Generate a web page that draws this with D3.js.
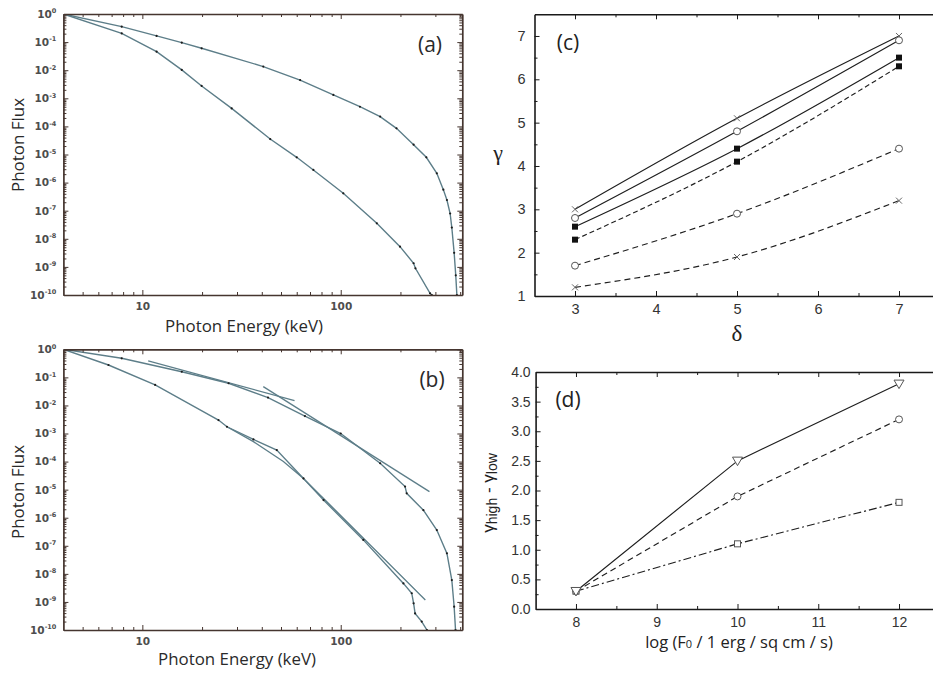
<!DOCTYPE html>
<html>
<head>
<meta charset="utf-8">
<script src="https://cdn.jsdelivr.net/npm/d3@7"></script>
<style>
  html,body{margin:0;padding:0;background:#fff;}
  svg{display:block;}
</style>
</head>
<body>
<svg id="chart" width="933" height="673"></svg>
<script>
// ---------------- DATA ----------------
// Panel (a): photon spectra, energy (keV) and log10(photon flux)
const aUpperEnergy = [4, 7.87, 11.8, 15.8, 19.9, 40.7, 62.4, 91.8, 125, 158, 191, 233, 270, 305, 329, 343, 356, 363, 373, 380, 385];
const aUpperLogFlux = [0, -0.45, -0.78, -1.02, -1.22, -1.87, -2.35, -2.88, -3.30, -3.65, -4.07, -4.65, -5.10, -5.67, -6.25, -6.62, -7.10, -7.60, -8.50, -9.30, -10];
const aLowerEnergy = [4, 7.87, 11.8, 15.8, 19.9, 28.2, 44.1, 60, 72.8, 103, 152, 199, 233, 238, 282, 288];
const aLowerLogFlux = [0, -0.69, -1.34, -1.99, -2.56, -3.36, -4.45, -5.10, -5.55, -6.38, -7.45, -8.28, -8.87, -9.05, -9.94, -10];

// Panel (b): spectra plus power-law fits
const bUpperEnergy = [4, 7.87, 15.8, 27.2, 43, 66, 100, 158, 211, 215, 261, 305, 343, 363, 373, 379];
const bUpperLogFlux = [0, -0.32, -0.80, -1.21, -1.72, -2.38, -3.0, -4.06, -4.89, -5.13, -5.73, -6.44, -7.27, -8.22, -9.17, -10];
const bLowerEnergy = [4, 6.75, 11.6, 24.2, 26.7, 36.3, 47.6, 64.9, 81.9, 130, 207, 228, 233, 237, 256, 272];
const bLowerLogFlux = [0, -0.56, -1.27, -2.52, -2.76, -3.21, -3.59, -4.60, -5.37, -6.79, -8.34, -8.69, -9.05, -9.41, -9.70, -10];
const bFitUpperLowEnergy = [10.7, 58.5];
const bFitUpperLowLogFlux = [-0.41, -1.83];
const bFitUpperHighEnergy = [40.7, 280];
const bFitUpperHighLogFlux = [-1.33, -5.07];
const bFitLowerHighEnergy = [26.7, 36.3, 51.4, 64.9, 267];
const bFitLowerHighLogFlux = [-2.76, -3.29, -4.0, -4.60, -8.93];

// Panel (c): gamma vs delta
const cDelta = [3, 5, 7];
const cSolidCross = [3.0, 5.1, 7.0];
const cSolidCircle = [2.8, 4.8, 6.9];
const cSolidSquare = [2.6, 4.4, 6.5];
const cDashSquare = [2.3, 4.1, 6.3];
const cDashCircle = [1.7, 2.9, 4.4];
const cDashCross = [1.2, 1.9, 3.2];
const cXTicks = [3, 4, 5, 6, 7];
const cYTicks = [1, 2, 3, 4, 5, 6, 7];

// Panel (d): gamma_high - gamma_low vs log F0
const dLogF0 = [8, 10, 12];
const dSolidTriangle = [0.3, 2.5, 3.8];
const dDashCircle = [0.3, 1.9, 3.2];
const dDashDotSquare = [0.3, 1.1, 1.8];
const dXTicks = [8, 9, 10, 11, 12];
const dYTicks = [0, 0.5, 1.0, 1.5, 2.0, 2.5, 3.0, 3.5, 4.0];

// log-axis tick values
const logXMajor = [10, 100];
const logXMinor = [5, 6, 7, 8, 9, 20, 30, 40, 50, 60, 70, 80, 90, 200, 300, 400];
const logYExponents = [0, -1, -2, -3, -4, -5, -6, -7, -8, -9, -10];

// ---------------- DRAWING ----------------
const svg = d3.select("#chart");
const frameColor = "#45352f";
const curveColor = "#5d7e89";

const zip = (xs, ys) => xs.map((v, i) => [v, ys[i]]);

function styleAxis(sel, color, width) {
  sel.select(".domain").attr("stroke", color).attr("stroke-width", width);
  sel.selectAll(".tick line").attr("stroke", color).attr("stroke-width", 1);
}

function logPanel(id, top, bottom, series, fits, tag, tagPos, xlabelPos, ylabelY) {
  const x = d3.scaleLog().domain([4, 410]).range([63.4, 462.3]);
  const y = d3.scaleLog().domain([1e-10, 1]).range([bottom, top]);
  const [x0, x1] = x.range();
  const g = svg.append("g");
  const yMajor = logYExponents.map(e => Math.pow(10, e));
  const yMinor = [];
  logYExponents.slice(1).forEach(e => { for (let k = 2; k <= 9; k++) yMinor.push(k * Math.pow(10, e)); });

  svg.append("clipPath").attr("id", "clip-" + id)
    .append("rect").attr("x", x0).attr("y", top).attr("width", x1 - x0).attr("height", bottom - top);

  const line = d3.line().x(d => x(d[0])).y(d => y(Math.pow(10, d[1])));
  const cg = g.append("g").attr("clip-path", `url(#clip-${id})`);
  fits.forEach(f => {
    cg.append("path").datum(f).attr("d", line).attr("fill", "none")
      .attr("stroke", curveColor).attr("stroke-width", 1.3);
  });
  series.forEach(s => {
    cg.append("path").datum(s).attr("d", line).attr("fill", "none")
      .attr("stroke", curveColor).attr("stroke-width", 1.4);
    cg.selectAll(null).data(s.slice(1)).enter().append("circle")
      .attr("cx", d => x(d[0])).attr("cy", d => y(Math.pow(10, d[1])))
      .attr("r", 1.1).attr("fill", "#1c1c1c");
  });

  const bottomAx = g.append("g").attr("transform", `translate(0,${bottom})`)
    .call(d3.axisBottom(x).tickValues(logXMajor).tickSize(-5).tickSizeOuter(0).tickPadding(8).tickFormat(d3.format("d")));
  const bottomMin = g.append("g").attr("transform", `translate(0,${bottom})`)
    .call(d3.axisBottom(x).tickValues(logXMinor).tickSize(-3).tickSizeOuter(0).tickFormat(() => ""));
  const topAx = g.append("g").attr("transform", `translate(0,${top})`)
    .call(d3.axisTop(x).tickValues(logXMajor).tickSize(-5).tickSizeOuter(0).tickFormat(() => ""));
  const topMin = g.append("g").attr("transform", `translate(0,${top})`)
    .call(d3.axisTop(x).tickValues(logXMinor).tickSize(-3).tickSizeOuter(0).tickFormat(() => ""));
  const leftAx = g.append("g").attr("transform", `translate(${x0},0)`)
    .call(d3.axisLeft(y).tickValues(yMajor).tickSize(-5).tickSizeOuter(0).tickPadding(7).tickFormat(() => ""));
  const leftMin = g.append("g").attr("transform", `translate(${x0},0)`)
    .call(d3.axisLeft(y).tickValues(yMinor).tickSize(-3).tickSizeOuter(0).tickFormat(() => ""));
  const rightAx = g.append("g").attr("transform", `translate(${x1},0)`)
    .call(d3.axisRight(y).tickValues(yMajor).tickSize(-5).tickSizeOuter(0).tickFormat(() => ""));
  const rightMin = g.append("g").attr("transform", `translate(${x1},0)`)
    .call(d3.axisRight(y).tickValues(yMinor).tickSize(-3).tickSizeOuter(0).tickFormat(() => ""));
  [bottomAx, topAx, leftAx, rightAx].forEach(a => styleAxis(a, frameColor, 1.7));
  [bottomMin, topMin, leftMin, rightMin].forEach(a => { a.select(".domain").remove(); styleAxis(a, frameColor, 1); });

  bottomAx.selectAll(".tick text")
    .style("font-family", "DejaVu Sans").style("font-weight", "bold").style("font-size", "10.5px").attr("fill", "#4d4d4d");
  leftAx.selectAll(".tick text").each(function(d) {
    const t = d3.select(this).text(null)
      .style("font-family", "DejaVu Sans").style("font-weight", "bold").style("font-size", "10.5px").attr("fill", "#4d4d4d");
    const e = Math.round(Math.log10(d));
    t.append("tspan").text("10");
    t.append("tspan").style("font-size", "6.5px").attr("dy", -4.5).text(e === 0 ? "0" : "-" + Math.abs(e));
  });

  g.append("text").attr("x", tagPos[0]).attr("y", tagPos[1]).attr("text-anchor", "middle")
    .style("font-family", "Open Sans").style("font-size", "21px").attr("fill", "#2a2a2a").text(tag);
  g.append("text").attr("x", xlabelPos[0]).attr("y", xlabelPos[1]).attr("text-anchor", "middle")
    .style("font-family", "Open Sans").style("font-size", "15.5px").attr("fill", "#2a2a2a")
    .attr("textLength", 158).attr("lengthAdjust", "spacingAndGlyphs").text("Photon Energy (keV)");
  g.append("text").attr("transform", `translate(24,${ylabelY}) rotate(-90)`).attr("text-anchor", "middle")
    .style("font-family", "Open Sans").style("font-size", "15.5px").attr("fill", "#2a2a2a")
    .attr("textLength", 94).attr("lengthAdjust", "spacingAndGlyphs").text("Photon Flux");
}

logPanel("a", 14, 295,
  [zip(aUpperEnergy, aUpperLogFlux), zip(aLowerEnergy, aLowerLogFlux)],
  [], "(a)", [430, 52], [244, 332], 145);

logPanel("b", 349.3, 630,
  [zip(bUpperEnergy, bUpperLogFlux), zip(bLowerEnergy, bLowerLogFlux)],
  [zip(bFitUpperLowEnergy, bFitUpperLowLogFlux), zip(bFitUpperHighEnergy, bFitUpperHighLogFlux), zip(bFitLowerHighEnergy, bFitLowerHighLogFlux)],
  "(b)", [432, 387], [237, 665], 492);

function marker(sel, type, size) {
  if (type === "cross") {
    const s = size / 2;
    sel.append("path").attr("d", `M${-s},${-s}L${s},${s}M${-s},${s}L${s},${-s}`)
      .attr("stroke", "#666").attr("stroke-width", 1).attr("fill", "none");
  } else if (type === "circle") {
    sel.append("circle").attr("r", size / 2).attr("fill", "#fff").attr("stroke", "#555").attr("stroke-width", 1);
  } else if (type === "square") {
    sel.append("rect").attr("x", -size / 2).attr("y", -size / 2).attr("width", size).attr("height", size).attr("fill", "#111");
  } else if (type === "osquare") {
    sel.append("rect").attr("x", -size / 2).attr("y", -size / 2).attr("width", size).attr("height", size)
      .attr("fill", "#fff").attr("stroke", "#555").attr("stroke-width", 1);
  } else if (type === "tri") {
    const s = size / 2;
    sel.append("path").attr("d", `M${-s},${-s * 0.75}L${s},${-s * 0.75}L0,${s * 0.95}Z`)
      .attr("fill", "#fff").attr("stroke", "#555").attr("stroke-width", 1);
  }
}

function linPanel(cfg) {
  const { x, y, top, bottom, xTicks, xMinor, yTicks, yMinor, yFormat, series, curve } = cfg;
  const g = svg.append("g");
  const [x0] = x.range();
  const line = d3.line().x(d => x(d[0])).y(d => y(d[1])).curve(curve);
  series.forEach(s => {
    g.append("path").datum(s.pts).attr("d", line).attr("fill", "none")
      .attr("stroke", "#1e1e1e").attr("stroke-width", 1.15)
      .attr("stroke-dasharray", s.dash || null);
  });
  series.forEach(s => {
    s.pts.forEach(p => {
      const m = g.append("g").attr("transform", `translate(${x(p[0])},${y(p[1])})`);
      marker(m, s.marker, s.size);
    });
  });
  const bAx = g.append("g").attr("transform", `translate(0,${bottom})`)
    .call(d3.axisBottom(x).tickValues(xTicks).tickSize(-5).tickSizeOuter(0).tickPadding(cfg.xPad).tickFormat(d3.format("d")));
  const bMin = g.append("g").attr("transform", `translate(0,${bottom})`)
    .call(d3.axisBottom(x).tickValues(xMinor).tickSize(-3).tickSizeOuter(0).tickFormat(() => ""));
  const tAx = g.append("g").attr("transform", `translate(0,${top})`)
    .call(d3.axisTop(x).tickValues(xTicks).tickSize(-5).tickSizeOuter(0).tickFormat(() => ""));
  const tMin = g.append("g").attr("transform", `translate(0,${top})`)
    .call(d3.axisTop(x).tickValues(xMinor).tickSize(-3).tickSizeOuter(0).tickFormat(() => ""));
  const lAx = g.append("g").attr("transform", `translate(${x0},0)`)
    .call(d3.axisLeft(y).tickValues(yTicks).tickSize(-5).tickSizeOuter(0).tickPadding(cfg.yPad).tickFormat(yFormat));
  const lMin = g.append("g").attr("transform", `translate(${x0},0)`)
    .call(d3.axisLeft(y).tickValues(yMinor).tickSize(-3).tickSizeOuter(0).tickFormat(() => ""));
  [bAx, tAx, lAx].forEach(a => styleAxis(a, "#1a1a1a", 1.6));
  [bMin, tMin, lMin].forEach(a => { a.select(".domain").remove(); styleAxis(a, "#1a1a1a", 1); });
  [bAx, lAx].forEach(a => a.selectAll(".tick text")
    .style("font-family", "Liberation Sans").style("font-size", cfg.tickFont + "px").attr("fill", "#333"));
  return g;
}

// Panel (c)
const cx = d3.scaleLinear().domain([2.5, 7.5]).range([534.5, 939.5]);
const cy = d3.scaleLinear().domain([1, 7.5]).range([296, 14.3]);
const gc = linPanel({
  x: cx, y: cy, top: 14.3, bottom: 296,
  xTicks: cXTicks, xMinor: [3.5, 4.5, 5.5, 6.5],
  yTicks: cYTicks, yMinor: [1.5, 2.5, 3.5, 4.5, 5.5, 6.5],
  yFormat: d3.format("d"), xPad: 8, yPad: 9, tickFont: 14.5,
  curve: d3.curveNatural,
  series: [
    { pts: zip(cDelta, cSolidCross), marker: "cross", size: 6 },
    { pts: zip(cDelta, cSolidCircle), marker: "circle", size: 7 },
    { pts: zip(cDelta, cSolidSquare), marker: "square", size: 6 },
    { pts: zip(cDelta, cDashSquare), marker: "square", size: 6, dash: "5,3" },
    { pts: zip(cDelta, cDashCircle), marker: "circle", size: 7, dash: "6,4" },
    { pts: zip(cDelta, cDashCross), marker: "cross", size: 6, dash: "6,4" }
  ]
});
gc.append("text").attr("x", 568).attr("y", 50).attr("text-anchor", "middle")
  .style("font-family", "Open Sans").style("font-size", "21px").attr("fill", "#222").text("(c)");
gc.append("text").attr("x", 498).attr("y", 160).attr("text-anchor", "middle")
  .style("font-family", "Liberation Serif").style("font-size", "22px").attr("fill", "#222").text("γ");
gc.append("text").attr("x", 737).attr("y", 341).attr("text-anchor", "middle")
  .style("font-family", "Liberation Serif").style("font-size", "23px").attr("fill", "#222").text("δ");

// Panel (d)
const dx = d3.scaleLinear().domain([7.5, 12.5]).range([535.6, 939.4]);
const dy = d3.scaleLinear().domain([0, 4]).range([609, 372]);
const gd = linPanel({
  x: dx, y: dy, top: 372, bottom: 609,
  xTicks: dXTicks, xMinor: [8.5, 9.5, 10.5, 11.5],
  yTicks: dYTicks, yMinor: [0.25, 0.75, 1.25, 1.75, 2.25, 2.75, 3.25, 3.75],
  yFormat: d3.format(".1f"), xPad: 8, yPad: 5, tickFont: 14,
  curve: d3.curveLinear,
  series: [
    { pts: zip(dLogF0, dDashDotSquare), marker: "osquare", size: 6, dash: "8,3,2,3" },
    { pts: zip(dLogF0, dDashCircle), marker: "circle", size: 7, dash: "6,4" },
    { pts: zip(dLogF0, dSolidTriangle), marker: "tri", size: 10 }
  ]
});
gd.append("text").attr("x", 568).attr("y", 407).attr("text-anchor", "middle")
  .style("font-family", "Open Sans").style("font-size", "21px").attr("fill", "#222").text("(d)");
const dxl = gd.append("text").attr("x", 739).attr("y", 648).attr("text-anchor", "middle")
  .style("font-family", "Open Sans").style("font-size", "16.5px").attr("fill", "#222");
dxl.append("tspan").text("log (F");
dxl.append("tspan").style("font-size", "11px").text("0");
dxl.append("tspan").text("  /  1 erg / sq cm / s)");
const dyl = gd.append("text").attr("transform", "translate(494,493) rotate(-90)").attr("text-anchor", "middle")
  .style("font-family", "Liberation Sans").style("font-size", "17px").attr("fill", "#222");
dyl.append("tspan").text("γ");
dyl.append("tspan").style("font-size", "14px").attr("dy", 3).text("high");
dyl.append("tspan").attr("dy", -3).text(" - γ");
dyl.append("tspan").style("font-size", "14px").attr("dy", 3).text("low");
</script>
</body>
</html>
